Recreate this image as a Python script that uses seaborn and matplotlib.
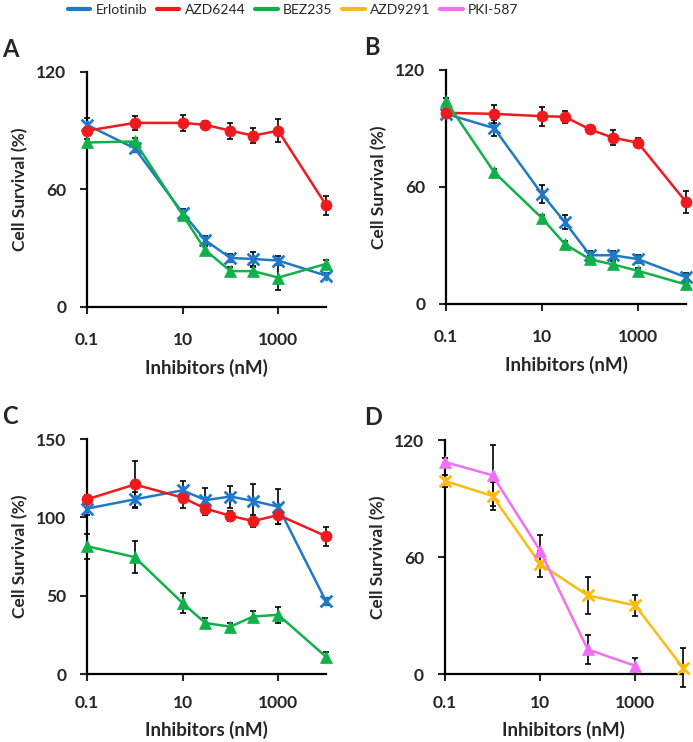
import numpy as np
import pandas as pd
import matplotlib
matplotlib.use("Agg")
import matplotlib.pyplot as plt
from matplotlib.lines import Line2D
from matplotlib.path import Path
from matplotlib.ticker import FixedLocator, NullLocator
import seaborn as sns

# concentrations (nM)
conc = [0.1, 1, 10, 30, 100, 300, 1000, 10000]
conc_d = [0.1, 1, 10, 100, 1000, 10000]

# panel A
a_erlo = [93, 81, 48, 34, 25, 24.5, 23.7, 16]
a_erlo_err = [3.4, 2, 2, 2, 2, 3.6, 2.5, 1.5]
a_azd6244 = [90, 94, 94, 93, 90, 87.5, 90, 52]
a_azd6244_err = [2, 3.5, 4.2, 2, 4, 3.8, 5.9, 4.9]
a_bez = [84, 84.5, 47, 29, 18.3, 18.3, 15, 22]
a_bez_err = [2, 2, 2, 2, 2, 2, 6.3, 2]

# panel B
b_erlo = [97.5, 90.2, 56.3, 42, 25, 25, 23, 13.7]
b_erlo_err = [2, 3.9, 4.7, 3.4, 2, 2, 2, 2.4]
b_azd6244 = [98, 97.5, 96.3, 96, 89.5, 85.3, 82.7, 52.3]
b_azd6244_err = [2, 4.7, 4.9, 3.2, 2, 3.8, 2.4, 5.5]
b_bez = [104, 67.7, 44, 30.7, 22.9, 20.3, 17, 10]
b_bez_err = [1.5, 1.5, 1.5, 1.5, 1.5, 1.5, 1.5, 1.5]

# panel C
c_erlo = [105.6, 111.5, 117.3, 111, 113.3, 110.5, 106.8, 46.3]
c_erlo_err = [4, 5, 6, 8, 7, 11, 11, 2]
c_azd6244 = [111.5, 121, 112.6, 105.6, 101, 97.6, 101.5, 88]
c_azd6244_err = [3, 15, 6.4, 4.3, 3, 3.7, 6, 6]
c_bez = [81.6, 74.6, 45.3, 32.5, 30.3, 36.7, 37.8, 11]
c_bez_err = [8, 10, 6.6, 3, 2, 3.8, 5, 3]

# panel D
d_azd9291 = [99, 91.3, 56.5, 40.3, 35.2, 3.2]
d_azd9291_err = [3, 7, 6.8, 9.4, 5.5, 10]
d_pki = [108.7, 101.9, 63.3, 12.6, 4.2]
d_pki_err = [2, 15.5, 8, 7.6, 4]

colors = {
    "Erlotinib": "#1f78c8",
    "AZD6244": "#f0191e",
    "BEZ235": "#10b04a",
    "AZD9291": "#fdbb12",
    "PKI-587": "#f46ef4",
}
# excel-style star: an X with a short vertical stroke
star = Path([(-1, -1), (1, 1), (-1, 1), (1, -1), (0, -0.8), (0, 0.8)],
            [Path.MOVETO, Path.LINETO, Path.MOVETO, Path.LINETO, Path.MOVETO, Path.LINETO])
markers = {"Erlotinib": star, "AZD6244": "o", "BEZ235": "^", "AZD9291": star, "PKI-587": "^"}

sns.set_style("ticks")
plt.rcParams["font.family"] = ["Lato", "DejaVu Sans"]

fig = plt.figure(figsize=(6.93, 7.42), dpi=100)

boxes = {
    "A": [0.1255, 0.5863, 0.345, 0.3167],
    "B": [0.6436, 0.5903, 0.3463, 0.3154],
    "C": [0.1255, 0.0916, 0.345, 0.3167],
    "D": [0.642, 0.0916, 0.3434, 0.3154],
}

panels = {
    "A": [("Erlotinib", conc, a_erlo, a_erlo_err), ("AZD6244", conc, a_azd6244, a_azd6244_err),
          ("BEZ235", conc, a_bez, a_bez_err)],
    "B": [("Erlotinib", conc, b_erlo, b_erlo_err), ("AZD6244", conc, b_azd6244, b_azd6244_err),
          ("BEZ235", conc, b_bez, b_bez_err)],
    "C": [("Erlotinib", conc, c_erlo, c_erlo_err), ("AZD6244", conc, c_azd6244, c_azd6244_err),
          ("BEZ235", conc, c_bez, c_bez_err)],
    "D": [("AZD9291", conc_d, d_azd9291, d_azd9291_err), ("PKI-587", conc_d[:5], d_pki, d_pki_err)],
}
yticks = {"A": [0, 60, 120], "B": [0, 60, 120], "C": [0, 50, 100, 150], "D": [0, 60, 120]}

for key, series in panels.items():
    ax = fig.add_axes(boxes[key])
    for name, x, y, err in series:
        ax.errorbar(x, y, yerr=err, fmt="none", ecolor="black", elinewidth=1.2,
                    capsize=2.5, capthick=1.2, zorder=2, clip_on=False)
        df = pd.DataFrame({"conc": x, "survival": y})
        m = markers[name]
        is_star = m is star
        sns.lineplot(data=df, x="conc", y="survival", ax=ax, color=colors[name],
                     marker=m, markersize=8.5 if is_star else 8,
                     markeredgecolor=colors[name],
                     markeredgewidth=2 if is_star else 0.5,
                     linewidth=1.8, zorder=3, clip_on=False)
    ax.set_xscale("log")
    ax.set_xlim(0.1, 10000)
    ax.xaxis.set_major_locator(FixedLocator([0.1, 10, 1000]))
    ax.xaxis.set_minor_locator(NullLocator())
    ax.set_xticklabels(["0.1", "10", "1000"])
    top = yticks[key][-1]
    ax.set_ylim(0, top)
    ax.set_yticks(yticks[key])
    sns.despine(ax=ax)
    for s in ["left", "bottom"]:
        ax.spines[s].set_linewidth(1.6)
        ax.spines[s].set_color("black")
    ax.tick_params(axis="both", length=5, width=1.5, labelsize=12.5)
    ax.tick_params(axis="x", pad=13 if key in "AB" else 10)
    ax.tick_params(axis="y", pad=10)
    for lab in ax.get_xticklabels() + ax.get_yticklabels():
        lab.set_fontweight("bold")
    ax.set_xlabel("Inhibitors (nM)", fontsize=13.5, fontweight="bold")
    ax.set_ylabel("Cell Survival (%)", fontsize=12.5, fontweight="bold")
    ax.xaxis.set_label_coords(0.5, -0.22 if key in "AB" else -0.2)
    ax.yaxis.set_label_coords(-0.245, 0.5)
    bx = boxes[key]
    lx = 0.003 if key in "AC" else 0.525
    fig.text(lx, bx[1] + bx[3] + 0.03, key, fontsize=17, fontweight="bold",
             ha="left", va="center")

handles = [Line2D([], [], color=c, linewidth=3) for c in colors.values()]
fig.legend(handles, list(colors.keys()), loc="upper left", bbox_to_anchor=(0.08, 1.012),
           ncol=5, frameon=False, fontsize=10, handlelength=1.6, handletextpad=0.4,
           columnspacing=0.7)

fig.savefig("out.png", dpi=100)
